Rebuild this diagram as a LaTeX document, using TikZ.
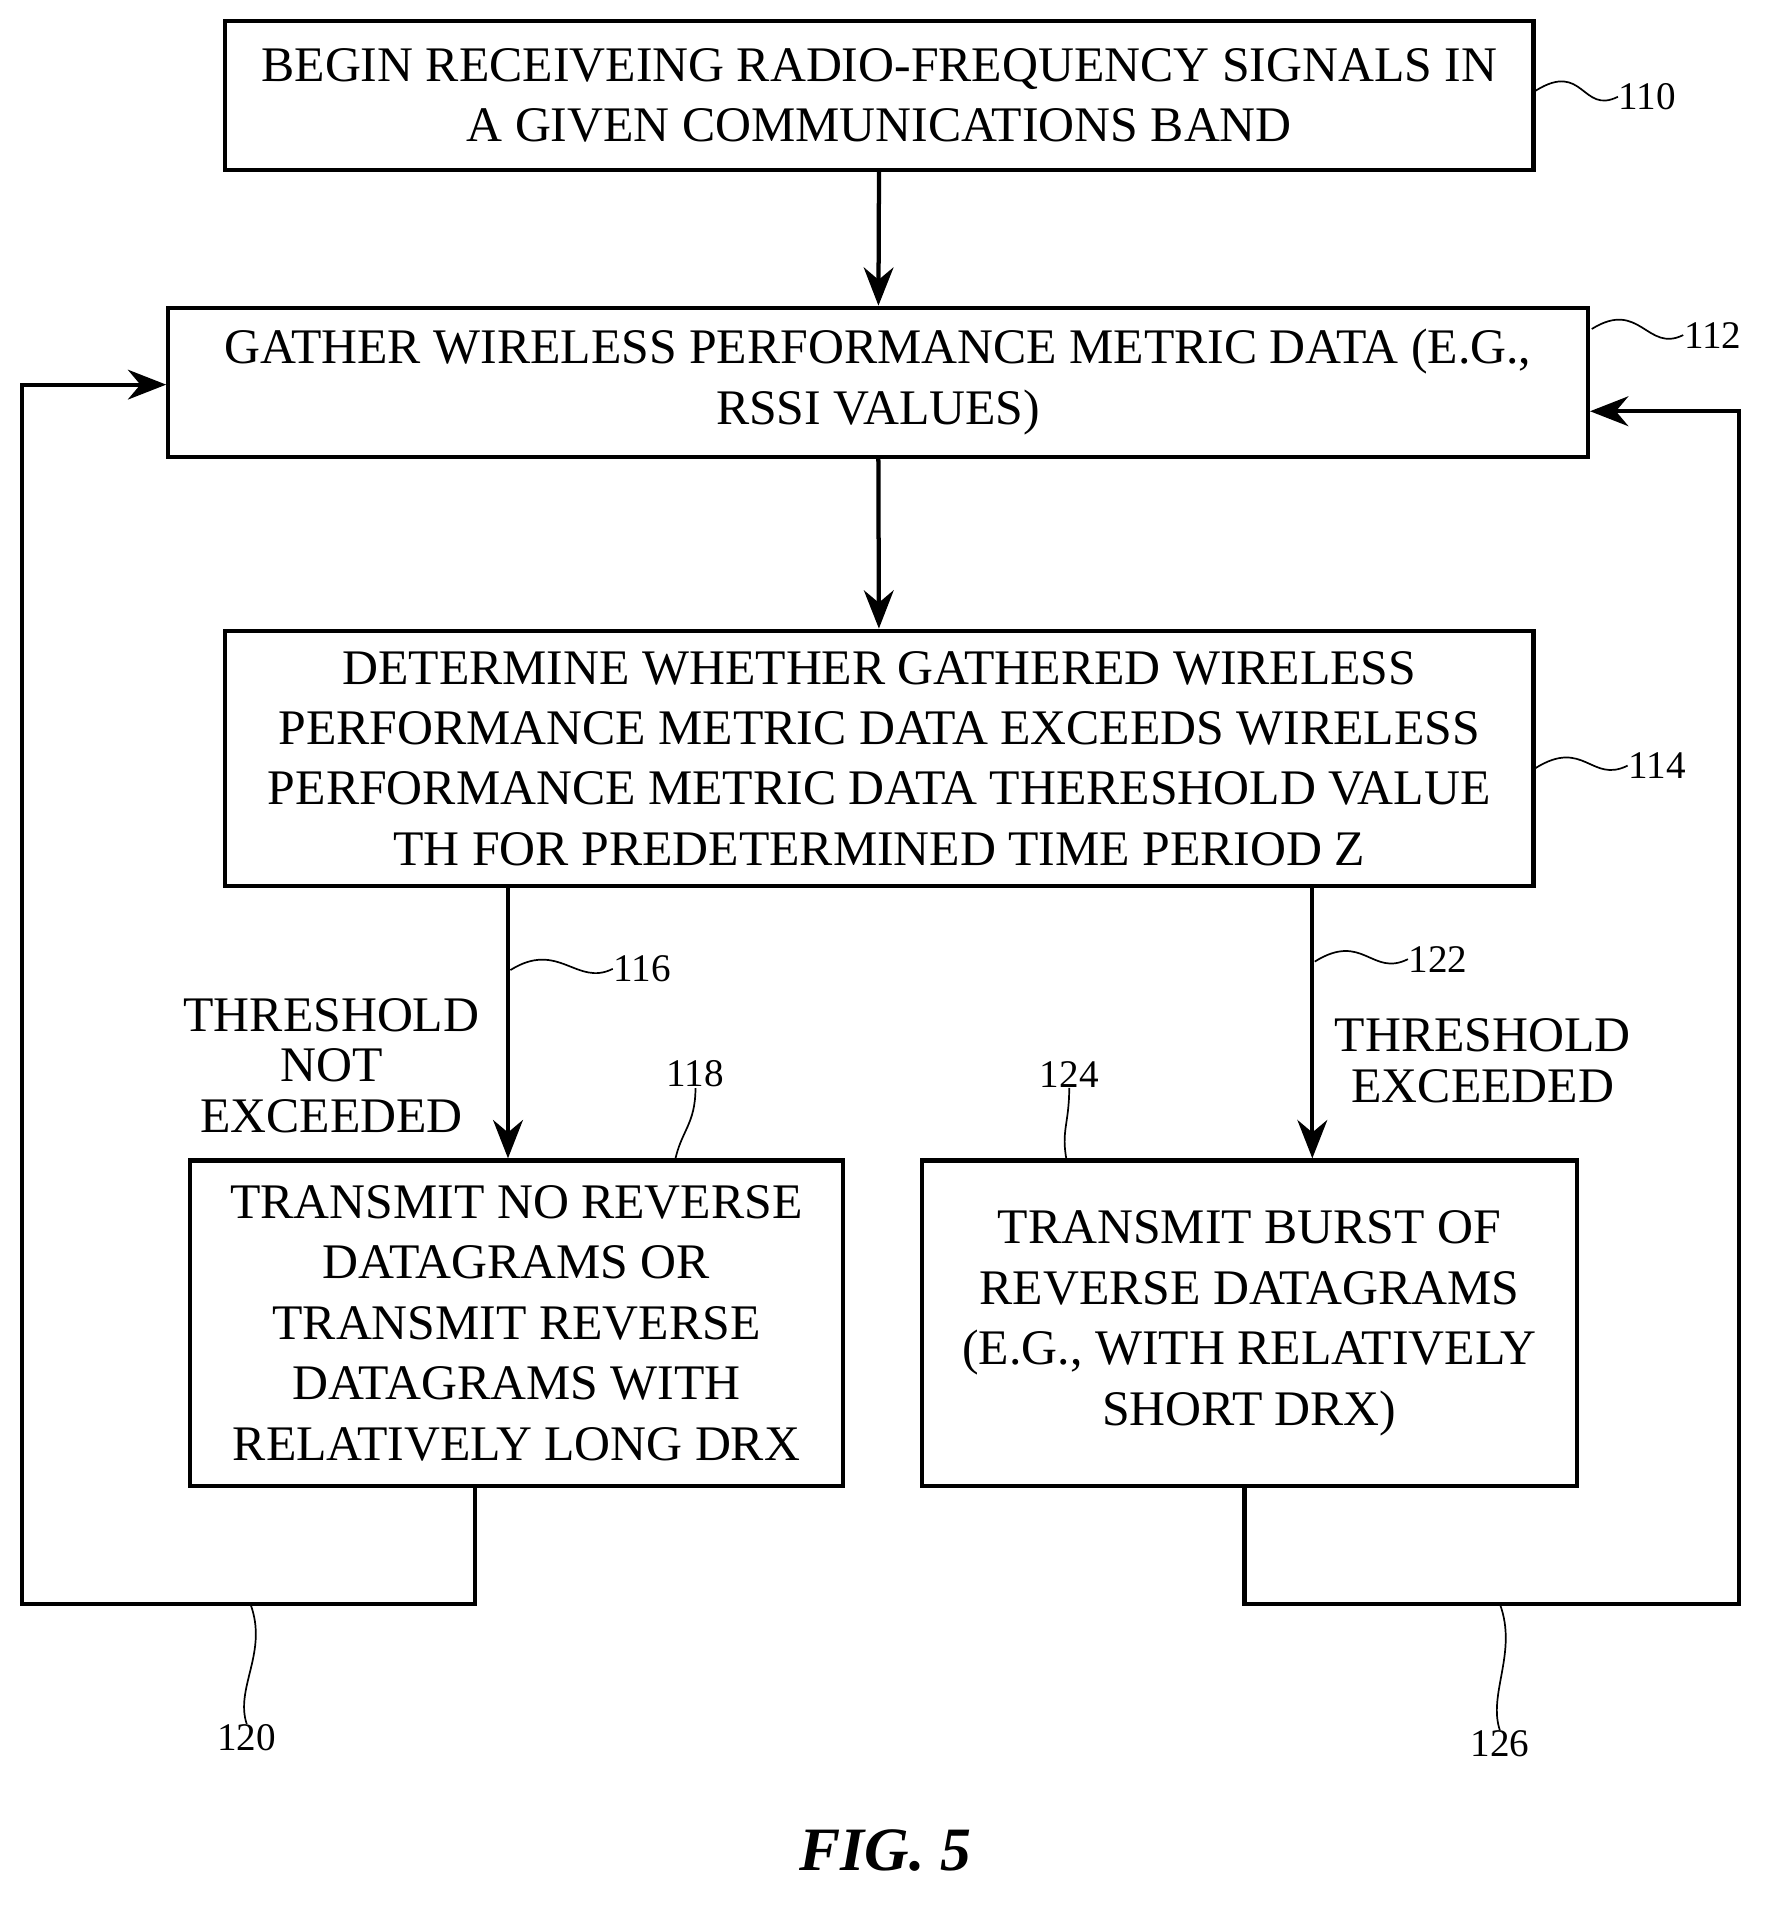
\documentclass[tikz,border=0pt]{standalone}
\usepackage{fontspec}
\setmainfont{Liberation Serif}
\usetikzlibrary{arrows.meta, positioning, calc}

\begin{document}
\begin{tikzpicture}[x=0.01cm, y=-0.01cm, >={Stealth[length=9pt,width=7pt]},
      every node/.style = {align=center, inner sep=0pt},
      box/.style = {draw, line width=1pt, font=\fontsize{11.7}{14.2}\selectfont},
      lbl/.style = {font=\fontsize{9.2}{10}\selectfont},
      cond/.style = {font=\fontsize{11.7}{11.8}\selectfont},
      flow/.style = {line width=1pt}]
    \useasboundingbox (0,0) rectangle (1464,1575);

    % boxes
    \node[box, minimum width=10.81cm, minimum height=1.23cm] (recv) at (727,79)
      {BEGIN RECEIVEING RADIO-FREQUENCY SIGNALS IN\\ A GIVEN COMMUNICATIONS BAND};
    \node[box, minimum width=11.73cm, minimum height=1.23cm] (gather) at (726,316)
      {GATHER WIRELESS PERFORMANCE METRIC DATA (E.G.,\\ RSSI VALUES)};
    \node[box, minimum width=10.81cm, minimum height=2.11cm] (check) at (727,627)
      {DETERMINE WHETHER GATHERED WIRELESS\\ PERFORMANCE METRIC DATA EXCEEDS WIRELESS\\
       PERFORMANCE METRIC DATA THERESHOLD VALUE\\ TH FOR PREDETERMINED TIME PERIOD Z};
    \node[box, minimum width=5.40cm, minimum height=2.69cm] (nosend) at (427,1094)
      {TRANSMIT NO REVERSE\\ DATAGRAMS OR\\ TRANSMIT REVERSE\\ DATAGRAMS WITH\\ RELATIVELY LONG DRX};
    \node[box, minimum width=5.41cm, minimum height=2.69cm] (burst) at (1033,1094)
      {TRANSMIT BURST OF\\ REVERSE DATAGRAMS\\ (E.G., WITH RELATIVELY\\ SHORT DRX)};

    % conditions
    \node[cond] (notexc) at (274,881) {THRESHOLD\\ NOT\\ EXCEEDED};
    \node[cond] (exc) at (1226,877) {THRESHOLD\\ EXCEEDED};
    \node[font=\fontsize{14.5}{16}\selectfont\bfseries\itshape] (fig) at (732,1530) {FIG. 5};

    % forward flow
    \draw[flow, ->] (recv) -- (gather);
    \draw[flow, ->] (gather) -- (check);
    \coordinate (l0) at (420,733);
    \coordinate (r0) at (1085,733);
    \draw[flow, ->] (l0) -- (l0 |- nosend.north);
    \draw[flow, ->] (r0) -- (r0 |- burst.north);

    % feedback loops
    \coordinate (lb) at (393,1229);
    \coordinate (rb) at (1029,1229);
    \draw[flow, ->] (lb) -- (393,1326) -- (18,1326) -- (18,318) -- (gather.west |- 0,318);
    \draw[flow, ->] (rb) -- (1029,1326) -- (1438,1326) -- (1438,340) -- (gather.east |- 0,340);

    % reference labels
    \node[lbl] (n110) at (1362,80) {110};
    \node[lbl] (n112) at (1416,277) {112};
    \node[lbl] (n114) at (1370,633) {114};
    \node[lbl] (n116) at (531,801) {116};
    \node[lbl] (n122) at (1189,793) {122};
    \node[lbl] (n118) at (575,888) {118};
    \node[lbl] (n124) at (884,888) {124};
    \node[lbl] (n120) at (204,1437) {120};
    \node[lbl] (n126) at (1240,1442) {126};

    \draw (recv.east |- 0,75) .. controls +(40,-25) and +(-30,15) .. (n110.west);
    \draw (1316,272) .. controls +(40,-25) and +(-30,15) .. (n112.west);
    \draw (check.east |- 0,635) .. controls +(40,-25) and +(-30,15) .. (n114.west);
    \draw (422,802) .. controls +(40,-25) and +(-30,15) .. (n116.west);
    \draw (1087,795) .. controls +(40,-25) and +(-30,15) .. (n122.west);
    \draw (n118.south) .. controls +(0,30) and +(5,-25) .. (558,960);
    \draw (n124.south) .. controls +(0,30) and +(-5,-25) .. (882,960);
    \draw (207,1326) .. controls +(15,40) and +(-10,-30) .. (n120.north);
    \draw (1240,1326) .. controls +(15,40) and +(-10,-30) .. (n126.north);
\end{tikzpicture}
\end{document}
